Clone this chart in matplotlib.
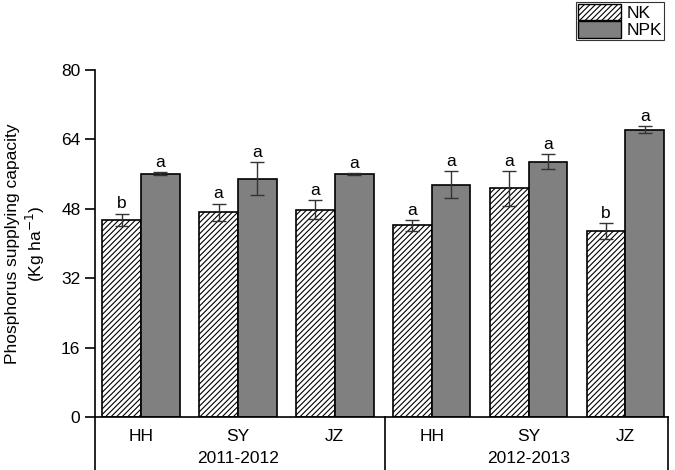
import numpy as np
import matplotlib
matplotlib.use("Agg")
import matplotlib.pyplot as plt
from matplotlib.patches import Patch

plt.rcParams['font.family'] = ['Liberation Sans', 'DejaVu Sans']
plt.rcParams['hatch.linewidth'] = 0.8

# dados
sites = ['HH', 'SY', 'JZ', 'HH', 'SY', 'JZ']
years = ['2011-2012', '2012-2013']
nk = [45.5, 47.2, 47.8, 44.2, 52.7, 42.9]
nk_err = [1.4, 2.0, 2.2, 1.2, 4.1, 1.9]
npk = [56.1, 55.0, 56.1, 53.6, 58.9, 66.3]
npk_err = [0.3, 3.8, 0.2, 3.2, 1.8, 0.8]
nk_letters = ['b', 'a', 'a', 'a', 'a', 'b']
npk_letters = ['a', 'a', 'a', 'a', 'a', 'a']

fs = 12.5

fig = plt.figure(figsize=(6.75, 4.7), dpi=100)
ax = fig.add_axes([0.1407, 0.1128, 0.849, 0.738])

x = np.arange(len(sites))
w = 0.4
ax.bar(x - w / 2, nk, w, color='white', edgecolor='black', hatch='//////', linewidth=1.2)
ax.bar(x + w / 2, npk, w, color='#808080', edgecolor='black', linewidth=1.2)
ax.errorbar(x - w / 2, nk, yerr=nk_err, fmt='none', ecolor='#333333', elinewidth=1, capsize=5)
ax.errorbar(x + w / 2, npk, yerr=npk_err, fmt='none', ecolor='#333333', elinewidth=1, capsize=5)

for i in range(len(sites)):
    ax.text(x[i] - w / 2, nk[i] + nk_err[i] + 0.5, nk_letters[i], ha='center', va='bottom', fontsize=fs)
    ax.text(x[i] + w / 2, npk[i] + npk_err[i] + 0.5, npk_letters[i], ha='center', va='bottom', fontsize=fs)

ax.set_xlim(-0.475, 5.44)
ax.set_ylim(0, 80)
ax.set_yticks([0, 16, 32, 48, 64, 80])
ax.tick_params(axis='y', direction='out', length=7, width=1.2, labelsize=fs)
ax.set_xticks(x)
ax.set_xticklabels(sites)
ax.tick_params(axis='x', length=0, labelsize=fs, pad=9)

for s in ['top', 'right']:
    ax.spines[s].set_visible(False)
for s in ['left', 'bottom']:
    ax.spines[s].set_linewidth(1.2)

ax.set_ylabel('Phosphorus supplying capacity\n(Kg ha$^{-1}$)', fontsize=fs, labelpad=10)

# caixa dos grupos abaixo do eixo
trans = ax.get_xaxis_transform()
for xv in [-0.475, 2.52, 5.44]:
    ax.plot([xv, xv], [0, -0.16], transform=trans, color='black', linewidth=1.2, clip_on=False)
ax.text(1.0, -0.12, years[0], transform=trans, ha='center', va='center', fontsize=fs)
ax.text(4.0, -0.12, years[1], transform=trans, ha='center', va='center', fontsize=fs)

handles = [Patch(facecolor='white', edgecolor='black', hatch='//////'),
           Patch(facecolor='#808080', edgecolor='black')]
leg = fig.legend(handles, ['NK', 'NPK'], loc='upper right', bbox_to_anchor=(0.983, 0.996),
                 fontsize=12.5, frameon=True, fancybox=False, edgecolor='black',
                 borderpad=0.1, labelspacing=0.05, handlelength=2.5, handleheight=1.05,
                 handletextpad=0.3, borderaxespad=0)
leg.get_frame().set_linewidth(0.8)

fig.savefig('out.png', dpi=100)
